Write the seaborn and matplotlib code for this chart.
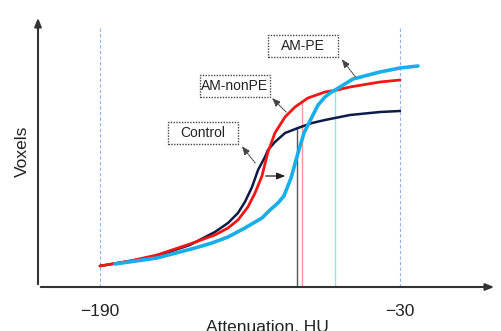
import numpy as np
import pandas as pd
import matplotlib
matplotlib.use("Agg")
import matplotlib.pyplot as plt
from matplotlib.patches import Rectangle
import seaborn as sns

# curve data (HU, relative voxel count)
control_hu = [-190, -174, -159.6, -142, -128.7, -121.7, -116.4, -112.7, -108.9, -105.7, -102, -100.4,
              -96.7, -91.3, -84.4, -76.9, -70, -56.7, -40.7, -30]
control_v = [21, 26, 31, 42, 55, 64, 74, 85, 100, 117, 130, 137, 145, 154, 159, 164, 167, 172, 175, 176]

nonpe_hu = [-190, -174, -159.6, -142, -128.7, -121.7, -116.4, -111.1, -107.3, -103.6, -100.4, -96.7,
            -91.3, -86, -79.1, -70, -63.6, -56.7, -40.7, -30]
nonpe_v = [21, 26, 32, 43, 52, 59, 67, 80, 94, 111, 135, 154, 170, 180, 189, 195, 197, 200, 205, 207]

pe_hu = [-182, -159.6, -139.3, -130.3, -121.7, -112.7, -103.6, -99.3, -95.1, -91.9, -88.1, -84.7,
         -81.2, -77.5, -73.7, -70, -67.3, -62, -55.1, -40.7, -30, -20.4]
pe_v = [23, 29, 39, 44, 50, 59, 69, 77, 84, 91, 109, 132, 154, 168, 182, 190, 194, 200, 208, 215, 219, 221]

# median markers: HU position and curve height
median_hu = [-85.1, -82.0, -64.7]
median_top = [160, 185, 197]
median_colors = ["#555555", "#f59a9a", "#9ddcf3"]

tick_hu = [-190, -30]
tick_labels = ["\u2212190", "\u221230"]
range_top = 259

sns.set_style("white")
plt.rcParams["font.family"] = ["Liberation Sans", "DejaVu Sans"]

fig = plt.figure(figsize=(5.01, 3.31), dpi=100)
ax = fig.add_axes([38/501, 44/331, 459/501, 272/331])
ax.set_xlim(-223, 21.7)
ax.set_ylim(0, 272)

# dashed range limits
for h in tick_hu:
    ax.plot([h, h], [0, range_top], ls=(0, (3, 2)), color="#93b3ea", lw=0.8, zorder=1)

# median lines
for h, t, c in zip(median_hu, median_top, median_colors):
    ax.plot([h, h], [0, t], color=c, lw=1.0, zorder=1)

df_c = pd.DataFrame({"hu": control_hu, "v": control_v})
df_n = pd.DataFrame({"hu": nonpe_hu, "v": nonpe_v})
df_p = pd.DataFrame({"hu": pe_hu, "v": pe_v})
sns.lineplot(data=df_c, x="hu", y="v", color="#0c1b48", lw=1.8, sort=False, ax=ax, zorder=3)
sns.lineplot(data=df_n, x="hu", y="v", color="#f21616", lw=2.0, sort=False, ax=ax, zorder=4)
sns.lineplot(data=df_p, x="hu", y="v", color="#17aee9", lw=2.6, sort=False, ax=ax, zorder=5)
for ln in ax.lines:
    ln.set_solid_joinstyle("round")
    ln.set_solid_capstyle("round")

# axes with arrows
for s in ax.spines.values():
    s.set_visible(False)
ax.annotate("", xy=(1.0, 0), xytext=(0, 0), xycoords="axes fraction",
            arrowprops=dict(arrowstyle="-|>,head_length=0.5,head_width=0.2", color="#333333", lw=1.5))
ax.annotate("", xy=(0, 1.0), xytext=(0, 0), xycoords="axes fraction",
            arrowprops=dict(arrowstyle="-|>,head_length=0.5,head_width=0.2", color="#333333", lw=1.5))

ax.set_xticks(tick_hu)
ax.set_xticklabels(tick_labels, fontsize=12.5, color="#222222")
ax.set_yticks([])
ax.tick_params(axis="x", length=0, pad=12)
ax.set_xlabel("Attenuation, HU", fontsize=12.5, color="#222222", labelpad=1)
ax.set_ylabel("Voxels", fontsize=12.5, color="#222222", labelpad=6)

# dotted label boxes with pointers
boxes = [
    ("AM-PE", (-100.4, 230), (-62, 230), (-52.9, 208)),
    ("AM-nonPE", (-136.7, 190), (-99.3, 191), (-89.7, 173)),
    ("Control", (-153.7, 143), (-115.3, 143), (-106.3, 122)),
]
for txt, (x0, y0), head, tail in boxes:
    ax.add_patch(Rectangle((x0, y0), 37.3, 22, fill=False, ls=(0, (1, 1)),
                           ec="#444444", lw=1.0, zorder=6))
    ax.text(x0 + 18.65, y0 + 11, txt, ha="center", va="center", fontsize=10,
            color="#222222", zorder=7)
    ax.annotate("", xy=head, xytext=tail,
                arrowprops=dict(arrowstyle="-|>,head_length=0.5,head_width=0.2",
                                ls=(0, (1, 1)), color="#444444", lw=0.8), zorder=7)

ax.annotate("", xy=(-89.7, 111), xytext=(-103.1, 111),
            arrowprops=dict(arrowstyle="-|>,head_length=0.5,head_width=0.2",
                            color="#222222", lw=0.9), zorder=7)

fig.savefig("out.png", dpi=100)
